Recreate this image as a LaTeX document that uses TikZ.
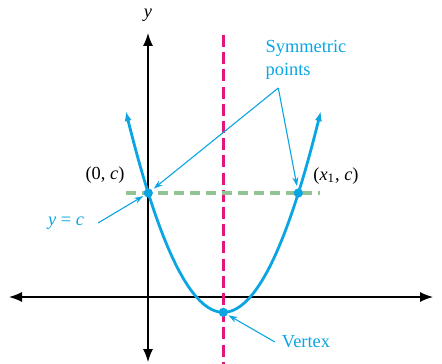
\documentclass[tikz,border=0pt]{standalone}
\usepackage{fontspec}
\setmainfont{Liberation Serif}
\usetikzlibrary{arrows.meta}
\definecolor{curveblue}{HTML}{0AA5E2}
\definecolor{axismagenta}{HTML}{E3167B}
\definecolor{levelgreen}{HTML}{93C293}
\begin{document}
\begin{tikzpicture}[
    x=0.5pt, y=-0.5pt,
    every node/.style={font=\fontsize{9.2}{11.5}\selectfont},
    axis/.style={line width=0.65pt, {Latex[length=6.5pt,width=5pt]}-{Latex[length=6.5pt,width=5pt]}},
    curve/.style={line width=1.4pt, draw=curveblue, {Latex[length=5pt,width=3.6pt]}-{Latex[length=5pt,width=3.6pt]}},
    symline/.style={line width=1.4pt, draw=axismagenta, dash pattern=on 6pt off 2.6pt},
    levelline/.style={line width=1.6pt, draw=levelgreen, dash pattern=on 5pt off 3pt},
    dot/.style={circle, fill=curveblue, inner sep=0pt, minimum size=4.6pt},
    callout/.style={line width=0.55pt, draw=curveblue, -{Stealth[length=4.5pt,width=3pt]}},
    blueLabel/.style={text=curveblue, align=left},
    axisLabel/.style={text=black}
]
    \useasboundingbox (0,0) rectangle (442,363);

% -------------------------
% Axes
% -------------------------
    \draw[axis] (9,297) -- (433,297);
    \draw[axis] (148,362) -- (148,33);
    \node[axisLabel] (xlab) at (437,296) [anchor=west] {\textit{x}};
    \node[axisLabel] (ylab) at (148,15) {\textit{y}};

% -------------------------
% Axis of symmetry and level line
% -------------------------
    \draw[symline] (223.3,35) -- (223.3,365);
    \draw[levelline] (126,193) -- (320,193);

% -------------------------
% Parabola
% -------------------------
    \draw[curve] plot[domain=-97.5:97.5, samples=80] ({223.3+\x},{312.3-0.02116*\x*\x});

% -------------------------
% Points
% -------------------------
    \node[dot] (p0) at (148.3,193) {};
    \node[dot] (p1) at (298.3,193) {};
    \node[dot] (vtx) at (223.3,312.3) {};

% -------------------------
% Labels
% -------------------------
    \node (p0lab) at (105,175) {(0, \textit{c})};
    \node (p1lab) at (336,176) {(\textit{x}\textsubscript{1}, \textit{c})};
    \node[blueLabel] (symlab) at (306,60) {Symmetric\\points};
    \node[blueLabel] (levlab) at (66,223) {\textit{y} = \textit{c}};
    \node[blueLabel] (vtxlab) at (306,342) {Vertex};
    \coordinate (symjoin) at (278.3,88);

% -------------------------
% Callouts
% -------------------------
    \draw[callout, shorten >=1pt] (symjoin) -- (p0);
    \draw[callout, shorten >=1pt] (symjoin) -- (p1);
    \draw[callout, shorten >=0.5pt] (levlab.east) ++(7,0) -- (p0);
    \draw[callout, shorten >=0.5pt] (vtxlab.west) -- (vtx);
\end{tikzpicture}
\end{document}
